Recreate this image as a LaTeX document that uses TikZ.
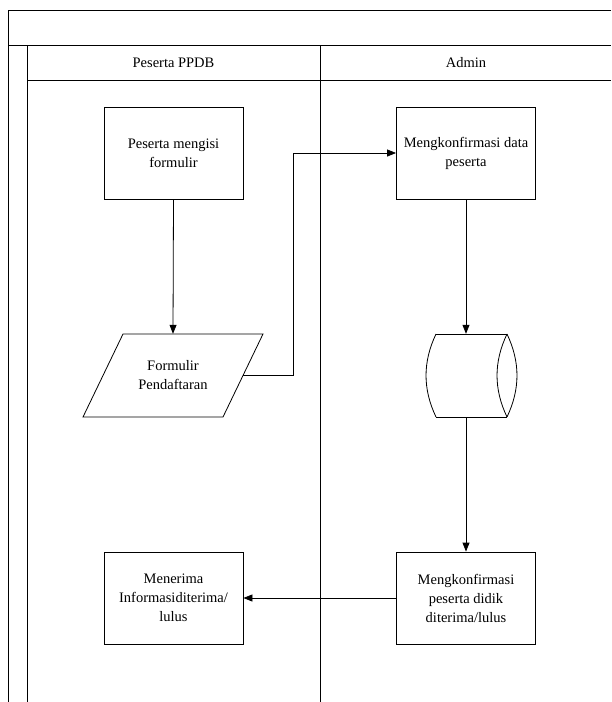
\documentclass[tikz,border=0pt]{standalone}
\usepackage{fontspec}
\setmainfont{Liberation Serif}
\usetikzlibrary{arrows.meta}
\begin{document}
\begin{tikzpicture}[x=1pt,y=-1pt,
  font=\fontsize{14.5}{19}\selectfont,
  line/.style={line width=0.8pt,black},
  procbox/.style={line, draw, minimum width=139pt, minimum height=92pt, align=center, inner sep=2pt},
  arr/.style={line, -{Triangle[length=9pt,width=7pt]}},
  ghost/.style={minimum width=#1, minimum height=83pt, inner sep=0pt, align=center}
]
\useasboundingbox (0,0) rectangle (611,702);
% swimlane frame
\draw[line] (611,10) -- (8,10) -- (8,702);
\draw[line] (8,45) -- (611,45);
\draw[line] (27,45) -- (27,702);
\draw[line] (27,80) -- (611,80);
\draw[line] (320,45) -- (320,702);
\node (lane1) at (173.5,62.5) {Peserta PPDB};
\node (lane2) at (466,62.5) {Admin};

% process boxes
\node[procbox] (b1) at (173.5,153) {Peserta mengisi\\formulir};
\node[procbox] (b2) at (466,153) {Mengkonfirmasi data\\peserta};
\node[procbox] (b3) at (173.5,598) {Menerima\\Informasiditerima/\\lulus};
\node[procbox] (b4) at (466,598) {Mengkonfirmasi\\peserta didik\\diterima/lulus};

% document / input parallelogram
\draw[line] (123,334) -- (263,334) -- (223,417) -- (83,417) -- cycle;
\node[ghost=140pt] (form) at (173,375.5) {Formulir\\Pendaftaran};
\coordinate (formE) at (243,375.5);

% storage drum
\node[ghost=81pt] (db) at (466,375.5) {};
\draw[line] (436,334) -- (507,334);
\draw[line] (436,417) -- (507,417);
\draw[line] (436,334) .. controls (422.7,362) and (422.7,389) .. (436,417);
\draw[line] (507,334) .. controls (493.7,362) and (493.7,389) .. (507,417);
\draw[line] (507,334) .. controls (520.3,362) and (520.3,389) .. (507,417);

% connectors
\draw[arr] (b1.south) -- (form.north);
\draw[arr] (formE) -- ++(50,0) |- (b2.west);
\draw[arr] (b2.south) -- (db.north);
\draw[arr] (db.south) -- (b4.north);
\draw[arr] (b4.west) -- (b3.east);
\end{tikzpicture}
\end{document}
